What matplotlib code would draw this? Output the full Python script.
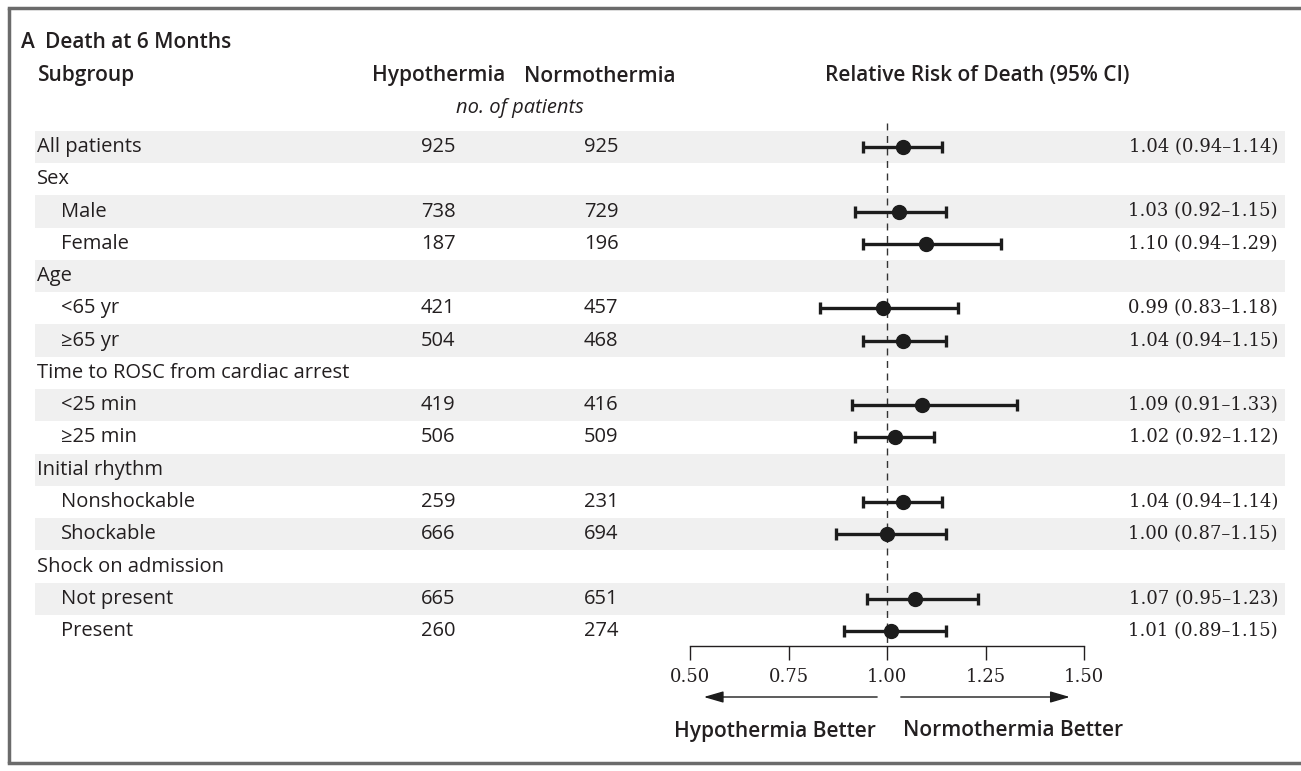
import matplotlib
matplotlib.use("Agg")
import matplotlib.pyplot as plt
from matplotlib.patches import Rectangle

# data
labels = ["All patients", "Sex", "Male", "Female", "Age", "<65 yr", "\u226565 yr",
          "Time to ROSC from cardiac arrest", "<25 min", "\u226525 min",
          "Initial rhythm", "Nonshockable", "Shockable",
          "Shock on admission", "Not present", "Present"]
indent = [0, 0, 1, 1, 0, 1, 1, 0, 1, 1, 0, 1, 1, 0, 1, 1]
n_hypo = [925, None, 738, 187, None, 421, 504, None, 419, 506, None, 259, 666, None, 665, 260]
n_normo = [925, None, 729, 196, None, 457, 468, None, 416, 509, None, 231, 694, None, 651, 274]
rr = [1.04, None, 1.03, 1.10, None, 0.99, 1.04, None, 1.09, 1.02, None, 1.04, 1.00, None, 1.07, 1.01]
ci_lo = [0.94, None, 0.92, 0.94, None, 0.83, 0.94, None, 0.91, 0.92, None, 0.94, 0.87, None, 0.95, 0.89]
ci_hi = [1.14, None, 1.15, 1.29, None, 1.18, 1.15, None, 1.33, 1.12, None, 1.14, 1.15, None, 1.23, 1.15]
xticks = [0.50, 0.75, 1.00, 1.25, 1.50]

TXT = "#231f20"
SANS = ["Open Sans", "DejaVu Sans"]
SERIF = ["DejaVu Serif"]
FS = 14.5      # body text
FH = 15        # bold headers
FN = 13        # numeric (serif) text

W, H = 1301, 771
fig = plt.figure(figsize=(W / 100, H / 100), dpi=100)

# background axes in pixel units (layout only)
bg = fig.add_axes([0, 0, 1, 1])
bg.set_xlim(0, W)
bg.set_ylim(H, 0)
bg.axis("off")

Y0, DY = 147, 32.27   # pixel centre of first row, row pitch


def row_y(r):
    return Y0 + r * DY


# frame (left, top, bottom; open on the right)
bg.plot([9, 9], [8, 763], color="#6b6b6b", lw=2.5, solid_capstyle="butt")
bg.plot([9, W], [8, 8], color="#6b6b6b", lw=2.5)
bg.plot([9, W], [763, 763], color="#6b6b6b", lw=2.5)

# shaded alternate rows
for r in range(0, len(labels), 2):
    bg.add_patch(Rectangle((35, row_y(r) - DY / 2), 1285 - 35, DY,
                           facecolor="#f0f0f0", edgecolor="none", zorder=0))

# titles and headers
hdr = dict(fontsize=FH, fontweight="semibold", family=SANS, color=TXT, va="center")
bg.text(21, 43, "A", **hdr)
bg.text(45, 43, "Death at 6 Months", **hdr)
bg.text(38, 76, "Subgroup", **hdr)
bg.text(439, 76, "Hypothermia", ha="center", **hdr)
bg.text(600, 76, "Normothermia", ha="center", **hdr)
bg.text(977, 76, "Relative Risk of Death (95% CI)", ha="center", **hdr)
bg.text(520, 108, "no. of patients", fontsize=FS, style="italic", family=SANS, color=TXT,
        va="center", ha="center")

# table columns
for r, lab in enumerate(labels):
    y = row_y(r)
    bg.text(37 + 24 * indent[r], y, lab, fontsize=FS, family=SANS, color=TXT, va="center")
    if n_hypo[r] is not None:
        bg.text(438, y, str(n_hypo[r]), fontsize=FS, family=SANS, color=TXT,
                va="center", ha="center")
        bg.text(601, y, str(n_normo[r]), fontsize=FS, family=SANS, color=TXT,
                va="center", ha="center")
    if rr[r] is not None:
        bg.text(1278, y, f"{rr[r]:.2f} ({ci_lo[r]:.2f}\u2013{ci_hi[r]:.2f})", fontsize=FN,
                family=SERIF, color=TXT, va="center", ha="right")

# forest axes: x = relative risk, y = row index
X0, X1 = 690, 1084
YT, YB = row_y(-0.5), 646
ax = fig.add_axes([X0 / W, 1 - YB / H, (X1 - X0) / W, (YB - YT) / H])
ax.set_xlim(0.5, 1.5)
ax.set_ylim((YB - Y0) / DY, -0.5)
ax.patch.set_alpha(0)
for s in ["top", "right", "left"]:
    ax.spines[s].set_visible(False)
ax.spines["bottom"].set_linewidth(1.0)
ax.spines["bottom"].set_color(TXT)
ax.set_yticks([])
ax.set_xticks(xticks)
ax.set_xticklabels([f"{t:.2f}" for t in xticks], family=SERIF, fontsize=FN, color=TXT)
ax.tick_params(axis="x", direction="out", length=10, width=1.0, color=TXT, pad=6)

# reference line at RR = 1
ax.plot([1, 1], [-0.75, (YB - Y0) / DY], color="#333333", lw=1.0,
        dashes=(5, 4), clip_on=False, zorder=1)

for r in range(len(labels)):
    if rr[r] is None:
        continue
    ax.errorbar(rr[r], r, xerr=[[rr[r] - ci_lo[r]], [ci_hi[r] - rr[r]]], fmt="o",
                color="#1c1c1c", ms=10, lw=2.4, capsize=4.5, capthick=2.4,
                clip_on=False, zorder=3)

# direction arrows and labels (pixel y on background axes)
ay = 697
arrow = dict(arrowstyle="-|>,head_length=1.2,head_width=0.35",
             color="#1c1c1c", lw=1.0, shrinkA=0, shrinkB=0)
ax.annotate("", xy=(0.535, ay), xytext=(0.975, ay),
            xycoords=("data", bg.transData), textcoords=("data", bg.transData),
            arrowprops=arrow)
ax.annotate("", xy=(1.464, ay), xytext=(1.035, ay),
            xycoords=("data", bg.transData), textcoords=("data", bg.transData),
            arrowprops=arrow)
bg.text(876, 731, "Hypothermia Better", ha="right", **hdr)
bg.text(903, 731, "Normothermia Better", ha="left", **hdr)

fig.savefig("out.png", dpi=100)
